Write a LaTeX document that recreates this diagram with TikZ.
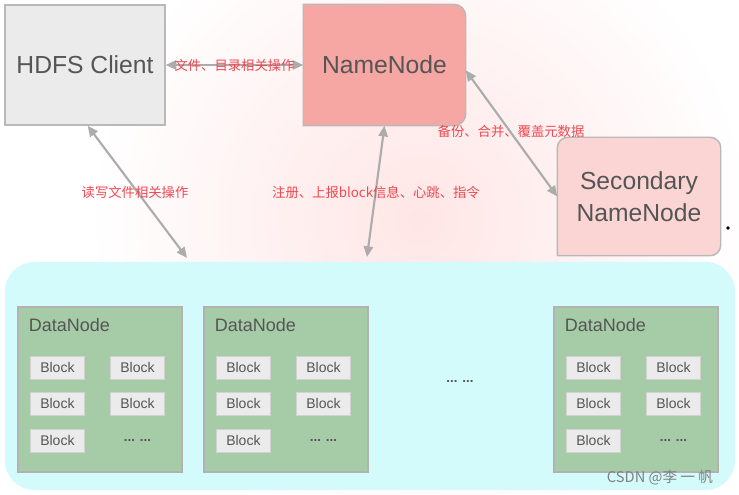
\documentclass[tikz,border=0pt]{standalone}
\usepackage{fontspec}
\setmainfont{Liberation Sans}
\newfontfamily\cjkfont{Noto Sans CJK SC}
\usetikzlibrary{arrows,arrows.meta,positioning}
\definecolor{mygrey}{RGB}{235,235,235}
\definecolor{mysalmon}{RGB}{246,166,163}
\definecolor{mypink}{RGB}{251,213,211}
\definecolor{mycyan}{RGB}{212,251,251}
\definecolor{mygreen}{RGB}{166,203,167}
\definecolor{myink}{RGB}{85,85,85}
\definecolor{myred}{RGB}{240,72,80}
\tikzset{
  frame/.style={rectangle, draw=gray!55, line width=1.1pt, minimum width=120pt, minimum height=90pt, text=myink, align=center, font=\fontsize{18.5}{24}\selectfont},
  data/.style={rectangle, draw=gray!60, line width=0.9pt, fill=mygreen, minimum width=123pt, minimum height=123.75pt},
  block/.style={rectangle, draw=gray!35, line width=0.8pt, fill=mygrey, minimum width=40.5pt, minimum height=17.25pt, text=myink, font=\fontsize{10.5}{12}\selectfont},
  dots/.style={text=myink, minimum width=40.5pt, minimum height=17.25pt, font=\bfseries\fontsize{10}{10}\selectfont},
  arrow/.style={draw=gray!65, line width=1.6pt, {Triangle[length=8pt,width=7pt]}-{Triangle[length=8pt,width=7pt]}},
  tag/.style={text=myred, inner sep=1pt, font=\cjkfont\fontsize{10}{12}\selectfont}
}

\begin{document}
\begin{tikzpicture}[x=0.75pt,y=-0.75pt]
\useasboundingbox (0,0) rectangle (739,495);

% backdrop
\begin{scope}
\clip (0,0) rectangle (739,495);
\shade[inner color=red!10, outer color=white] (420,220) circle (330);
\end{scope}

% boxes
\node [frame, fill=mygrey] (client) at (85,65) {HDFS Client};

\node [frame, draw=none, minimum width=120.75pt] (namenode) at (384.5,65) {};
\filldraw [draw=gray!55, line width=1.1pt, fill=mysalmon] (namenode.south west) -- (namenode.north west)
  [rounded corners=9pt] -- (namenode.north east) -- (namenode.south east) [sharp corners] -- cycle;
\node [frame, draw=none] (namelabel) at (namenode) {NameNode};

\node [frame, draw=none, minimum width=121.5pt, minimum height=87.75pt] (secondary) at (639,196.5) {};
\filldraw [draw=gray!55, line width=1.1pt, fill=mypink] (secondary.south west)
  [rounded corners=8pt] -- (secondary.north west) -- (secondary.north east) -- (secondary.south east) [sharp corners] -- cycle;
\node [frame, draw=none] (secondarylabel) at (secondary) {Secondary\\NameNode};
\fill (728,228) circle (1.8);

\node [rectangle, fill=mycyan, rounded corners=22pt, minimum width=547.5pt, minimum height=171pt] (cluster) at (370,376) {};

% datanodes
\node [data] (dn1) at (100,389.5) {};
\node [data] (dn2) at (286,389.5) {};
\node [data] (dn3) at (636,389.5) {};
\node [anchor=west, text=myink, font=\fontsize{13.5}{16}\selectfont] (dn1label) at ([xshift=5pt,yshift=-14pt]dn1.north west) {DataNode};
\node [anchor=west, text=myink, font=\fontsize{13.5}{16}\selectfont] (dn2label) at ([xshift=5pt,yshift=-14pt]dn2.north west) {DataNode};
\node [anchor=west, text=myink, font=\fontsize{13.5}{16}\selectfont] (dn3label) at ([xshift=5pt,yshift=-14pt]dn3.north west) {DataNode};

\node [block] (b11) at ([xshift=30pt,yshift=-46pt]dn1.north west) {Block};
\node [block, right=18.75pt of b11] (b12) {Block};
\node [block, below=9pt of b11] (b13) {Block};
\node [block, below=9pt of b12] (b14) {Block};
\node [block, below=9.5pt of b13] (b15) {Block};
\node [dots, below=9.5pt of b14] (b16) {... ...};

\node [block] (b21) at ([xshift=30pt,yshift=-46pt]dn2.north west) {Block};
\node [block, right=18.75pt of b21] (b22) {Block};
\node [block, below=9pt of b21] (b23) {Block};
\node [block, below=9pt of b22] (b24) {Block};
\node [block, below=9.5pt of b23] (b25) {Block};
\node [dots, below=9.5pt of b24] (b26) {... ...};

\node [block] (b31) at ([xshift=30pt,yshift=-46pt]dn3.north west) {Block};
\node [block, right=18.75pt of b31] (b32) {Block};
\node [block, below=9pt of b31] (b33) {Block};
\node [block, below=9pt of b32] (b34) {Block};
\node [block, below=9.5pt of b33] (b35) {Block};
\node [dots, below=9.5pt of b34] (b36) {... ...};

\node [dots] (more) at (460,382) {... ...};

% links
\coordinate (readend) at (187,258);
\coordinate (regend) at (367,257);
\draw [arrow] (client.east) -- (namenode.west) node [tag, midway] (filetag) {文件、目录相关操作};
\draw [arrow] ([yshift=-4pt]namenode.east) -- (secondary.west);
\draw [arrow] ([xshift=2pt]client.south) -- (readend);
\draw [arrow] (namenode.south) -- (regend);
\node [tag] (backuptag) at (511,131) {备份、合并、覆盖元数据};
\node [tag] (readtag) at (135,192) {读写文件相关操作};
\node [tag] (regtag) at (376,192) {注册、上报block信息、心跳、指令};

\node [text=gray, font=\cjkfont\fontsize{11}{12}\selectfont] (mark) at (660,478) {CSDN @李 一 帆};

\end{tikzpicture}
\end{document}
